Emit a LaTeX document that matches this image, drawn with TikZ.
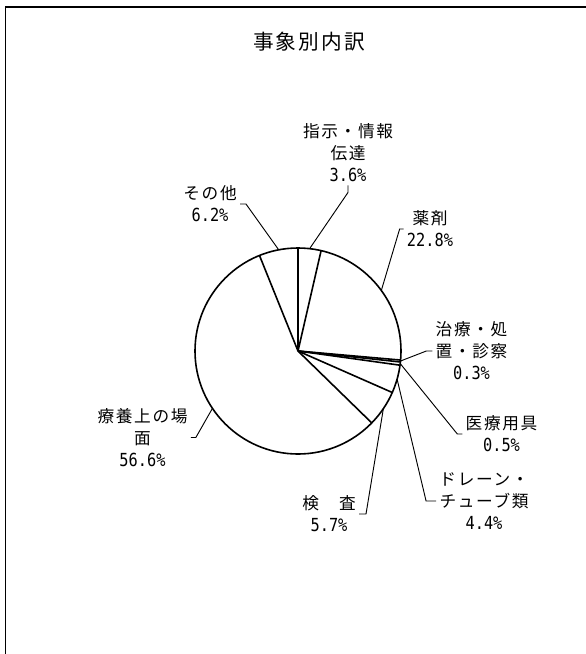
\documentclass[tikz,border=0pt]{standalone}
\usepackage{fontspec}
\setmainfont{Noto Sans CJK JP}
\newfontfamily\labfont{Noto Sans CJK JP}[LetterSpace=10]
\newfontfamily\numfont{DejaVu Sans Mono}[FakeStretch=0.85]
\usetikzlibrary{calc}
\newcommand\pcttext[1]{{\numfont\fontsize{13.5}{16.5}\selectfont #1}}
\tikzset{
    % Lines
    frame line/.style={line width=1.1pt},
    pie line/.style={line width=1.2pt},
    leader/.style={line width=0.7pt},
    %
    % Texts
    title/.style={inner sep=0pt,font=\labfont\fontsize{15.5}{18}\selectfont},
    lbl/.style={align=center,inner sep=0pt,outer sep=2.5pt,
        font=\labfont\fontsize{12.5}{16.5}\selectfont}
}

\begin{document}
\begin{tikzpicture}[x=0.75pt,y=-0.75pt]
        \useasboundingbox (0,0) rectangle (586,654);
        \draw[frame line] (5.5,654) -- (5.5,7) -- (586,7);
        \node[title] (head) at (309,42) {事象別内訳};
        % pie
        \coordinate (c) at (298,351);
        \draw[pie line] (c) circle[radius=103];
        \foreach \a in {-90,-77.04,5.04,6.12,7.92,23.76,44.28,248.04}{
            \draw[pie line] (c) -- ($(c)+(\a:103)$);
        }
        \foreach \n/\a in {shiji/-83.52,yaku/-36,chiryo/5.58,iryo/7.02,drain/15.84,kensa/34.02,ryoyo/146.16,sonota/259.2}{
            \coordinate (\n-p) at ($(c)+(\a:103)$);
        }
        % labels
        \node[lbl] (shiji) at (348,153) {指示・情報\\伝達\\\pcttext{3.6\%}};
        \node[lbl] (sonota) at (210,204) {その他\\\pcttext{6.2\%}};
        \node[lbl] (yaku) at (430,229) {薬剤\\\pcttext{22.8\%}};
        \node[lbl] (chiryo) at (471.5,351) {治療・処\\置・診察\\\pcttext{0.3\%}};
        \node[lbl] (iryo) at (501.5,434) {医療用具\\\pcttext{0.5\%}};
        \node[lbl] (drain) at (484,501) {ドレーン・\\チューブ類\\\pcttext{4.4\%}};
        \node[lbl] (kensa) at (329,514) {検　査\\\pcttext{5.7\%}};
        \node[lbl] (ryoyo) at (142.5,437.5) {療養上の場\\面\\\pcttext{56.6\%}};
        % leaders
        \draw[leader] (shiji-p) -- ($(shiji.south)+(0,7)$) -- (shiji.south);
        \draw[leader] (sonota-p) -- ($(sonota.east)+(6,0)$) -- (sonota.east);
        \draw[leader] (yaku-p) -- ($(yaku.west)+(-4,0)$) -- (yaku.west);
        \draw[leader] (chiryo-p) -- ($(chiryo.west)+(-6,0)$) -- (chiryo.west);
        \draw[leader] (iryo-p) -- ($(iryo.west)+(-5,0)$) -- (iryo.west);
        \draw[leader] (drain-p) -- ($(drain.west)+(-10,0)$) -- (drain.west);
        \draw[leader] (kensa-p) -- ($(kensa.east)+(7,0)$) -- (kensa.east);
        \draw[leader] (ryoyo-p) -- ($(ryoyo.east)+(5,0)$) -- (ryoyo.east);
    \end{tikzpicture}
\end{document}
